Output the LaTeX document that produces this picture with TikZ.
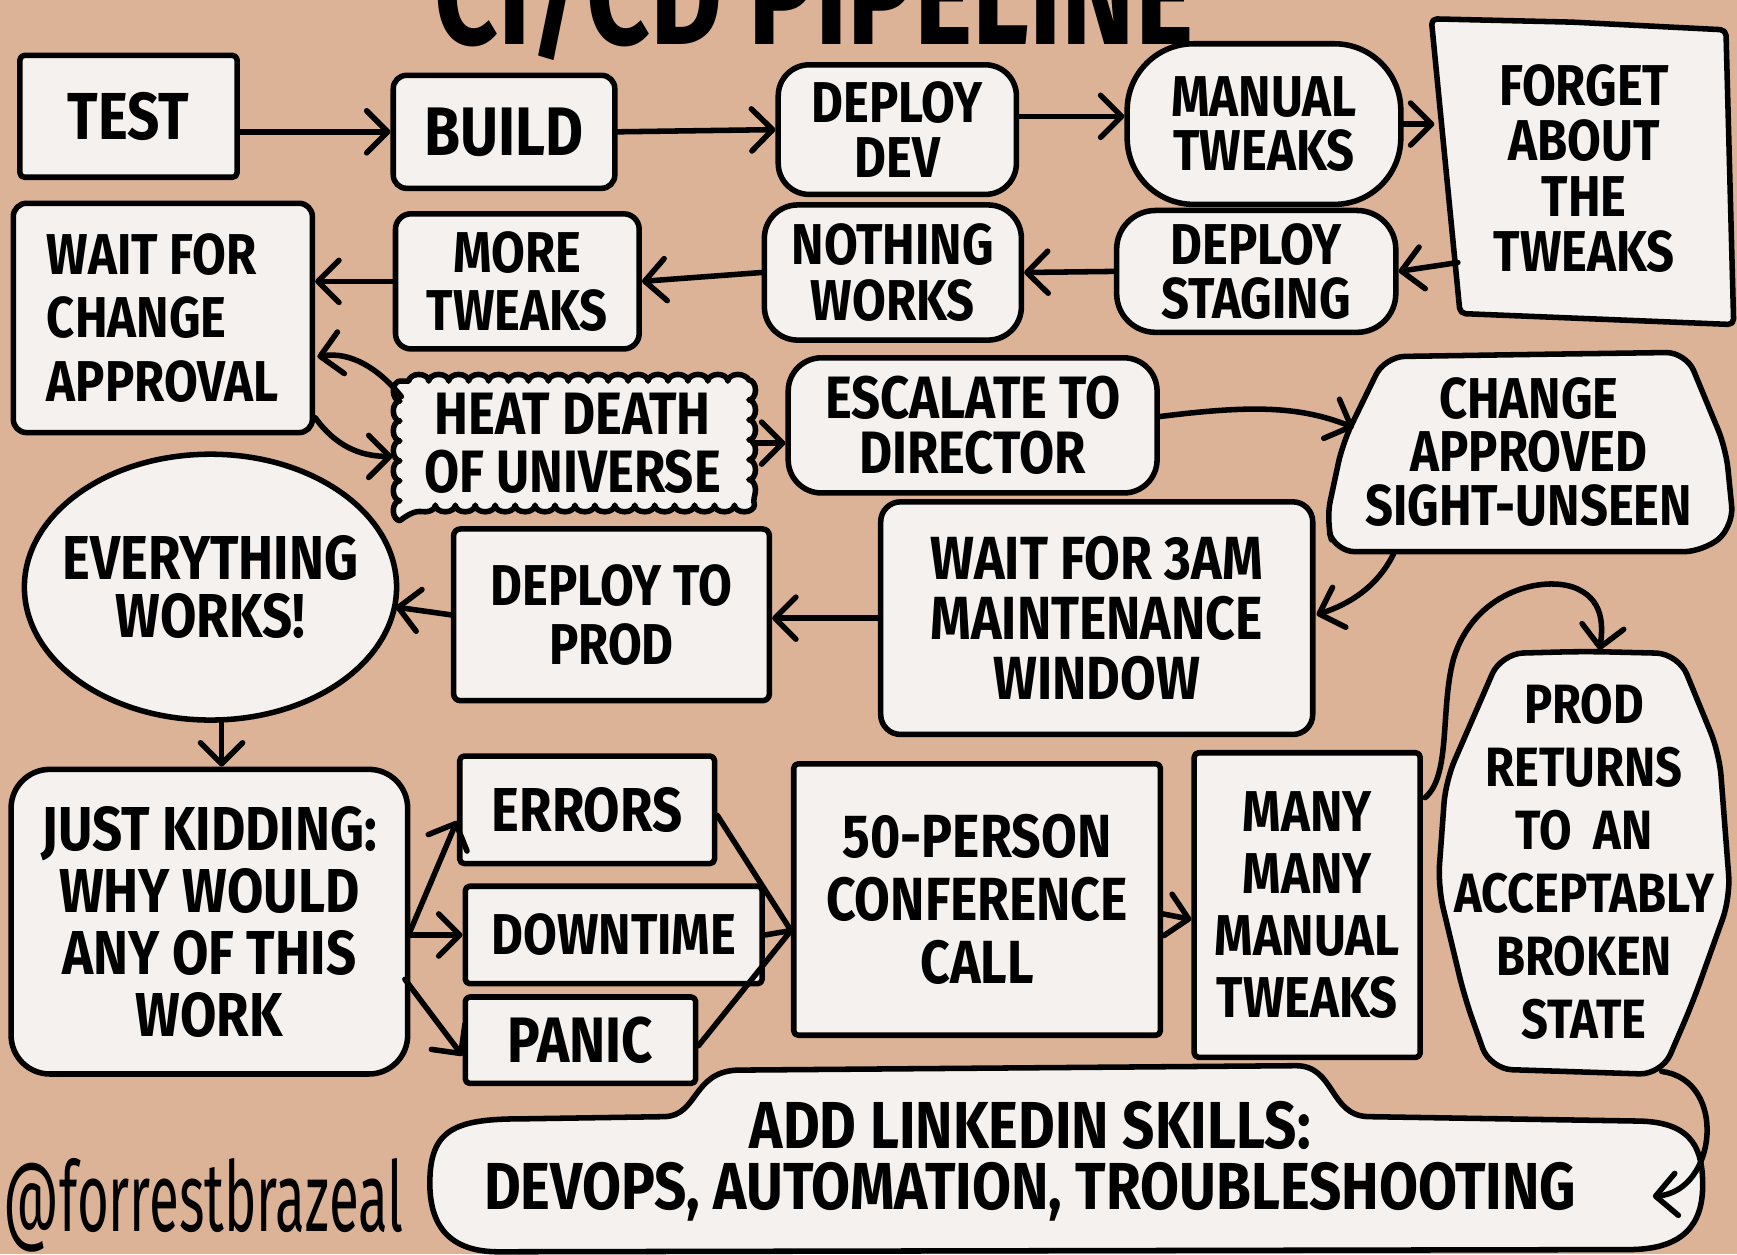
\documentclass[tikz,border=0pt]{standalone}
\usepackage{fontspec}
\usetikzlibrary{arrows.meta,calc,decorations.pathmorphing}
\newfontfamily\handf{Fira Sans}[FakeStretch=0.85]
\newfontfamily\titlef{Fira Sans}[FakeStretch=0.77]
\newfontfamily\sigf{Fira Sans}[FakeStretch=0.56]
\newcommand\hf[2]{\handf\bfseries\fontsize{#1}{#2}\selectfont}
\definecolor{bgc}{RGB}{221,179,151}
\definecolor{boxc}{RGB}{244,241,238}
\tikzset{
  bx/.style={draw=black, line width=5pt, fill=boxc, align=center, inner sep=0pt, line join=round},
  tx/.style={align=center, inner sep=0pt},
  shapebox/.style={draw=black, line width=5pt, fill=boxc, line join=round},
  arr/.style={draw=black, line width=5pt, line cap=round, -{Straight Barb[length=19pt,width=38pt,line width=5pt,round]}},
  cn/.style={draw=black, line width=5pt, line cap=round},
}
\begin{document}
\begin{tikzpicture}[x=1pt,y=-1pt]
\fill[bgc] (0,0) rectangle (1568,1132);
\useasboundingbox (0,0) rectangle (1568,1132);

% title and signature
\node[anchor=base, inner sep=0pt, font=\titlef\bfseries\fontsize{130}{130}\selectfont] (title) at (735,40) {CI/CD PIPELINE};
\node[anchor=base west, inner sep=0pt, font=\sigf\fontsize{88}{88}\selectfont] (sig) at (3,1112) {@forrestbrazeal};

% custom shapes
\draw[shapebox, rounded corners=5pt] (1420,20) -- (1558,27) -- (1565,293) -- (1318,283) -- (1292,17) -- cycle;
\draw[shapebox, decorate, decoration={bumps, mirror, segment length=36pt, amplitude=6pt}] (361,344) rectangle (676,456);
\draw[shapebox, rounded corners=18pt] (1380,320) -- (1522,318) -- (1558,405) -- (1565,475) -- (1538,498) -- (1205,498) -- (1197,470) -- (1212,400) -- (1250,322) -- cycle;
\draw[shapebox] (190,530) ellipse [x radius=168, y radius=120];
\draw[shapebox, rounded corners=20pt] (1430,588) -- (1515,590) -- (1552,680) -- (1562,810) -- (1528,905) -- (1500,970) -- (1345,965) -- (1322,900) -- (1298,800) -- (1305,705) -- (1355,590) -- cycle;
\draw[shapebox] (388,1068) .. controls (388,1020) and (410,1010) .. (470,1010) -- (600,1008) .. controls (630,1007) and (625,968) .. (665,966) -- (1170,962) .. controls (1205,962) and (1200,1007) .. (1235,1008) -- (1480,1012) .. controls (1530,1013) and (1537,1040) .. (1537,1070) .. controls (1537,1105) and (1520,1128) .. (1470,1128) -- (450,1130) .. controls (400,1130) and (388,1100) .. (388,1068) -- cycle;

% nodes
\node[bx, rounded corners=4pt, minimum width=196pt, minimum height=110pt, font=\hf{60}{60}] (test) at (116,105) {TEST};
\node[bx, rounded corners=12pt, minimum width=200pt, minimum height=102pt, font=\hf{62}{62}] (build) at (455,119) {BUILD};
\node[bx, rounded corners=28pt, minimum width=215pt, minimum height=117pt, font=\hf{52}{49}] (devdep) at (810,117) {DEPLOY\\DEV};
\node[bx, rounded corners=60pt, minimum width=247pt, minimum height=145pt, font=\hf{52}{49}] (manual) at (1141,112) {MANUAL\\TWEAKS};
\node[tx, minimum width=270pt, minimum height=275pt, font=\hf{52}{50}] (forget) at (1430,152) {FORGET\\ABOUT\\THE\\TWEAKS};
\node[bx, rounded corners=35pt, minimum width=252pt, minimum height=110pt, font=\hf{52}{49}] (staging) at (1134,245) {DEPLOY\\STAGING};
\node[bx, rounded corners=30pt, minimum width=232pt, minimum height=122pt, font=\hf{52}{50}] (nothing) at (806,246) {NOTHING\\WORKS};
\node[bx, rounded corners=14pt, minimum width=220pt, minimum height=122pt, font=\hf{52}{52}] (more) at (467,254) {MORE\\TWEAKS};
\node[bx, align=left, rounded corners=12pt, minimum width=270pt, minimum height=207pt, font=\hf{52}{57}] (wait) at (147,287) {WAIT FOR\\CHANGE\\APPROVAL};
\node[tx, minimum width=325pt, minimum height=124pt, font=\hf{54}{52}] (heat) at (517,400) {HEAT DEATH\\OF UNIVERSE};
\node[bx, rounded corners=30pt, minimum width=333pt, minimum height=122pt, font=\hf{54}{50}] (escalate) at (878,384) {ESCALATE TO\\DIRECTOR};
\node[tx, minimum width=368pt, minimum height=178pt, font=\hf{52}{48}] (approved) at (1380,408) {CHANGE\\APPROVED\\SIGHT-UNSEEN};
\node[bx, rounded corners=18pt, minimum width=390pt, minimum height=210pt, font=\hf{55}{54}] (wait3) at (990,558) {WAIT FOR 3AM\\MAINTENANCE\\WINDOW};
\node[bx, rounded corners=6pt, minimum width=285pt, minimum height=155pt, font=\hf{52}{53}] (deployprod) at (552,555) {DEPLOY TO\\PROD};
\node[tx, minimum width=336pt, minimum height=240pt, font=\hf{56}{53}] (everything) at (190,530) {EVERYTHING\\WORKS!};
\node[bx, rounded corners=35pt, minimum width=358pt, minimum height=275pt, font=\hf{56}{56}] (kidding) at (189,832) {JUST KIDDING:\\WHY WOULD\\ANY OF THIS\\WORK};
\node[bx, rounded corners=4pt, minimum width=230pt, minimum height=97pt, font=\hf{56}{56}] (errors) at (530,731) {ERRORS};
\node[bx, rounded corners=4pt, minimum width=268pt, minimum height=88pt, font=\hf{52}{52}] (downtime) at (554,844) {DOWNTIME};
\node[bx, rounded corners=4pt, minimum width=208pt, minimum height=78pt, font=\hf{58}{58}] (panic) at (524,939) {PANIC};
\node[bx, rounded corners=4pt, minimum width=331pt, minimum height=245pt, font=\hf{55}{57}] (conf) at (882,812) {50-PERSON\\CONFERENCE\\CALL};
\node[bx, rounded corners=4pt, minimum width=204pt, minimum height=275pt, font=\hf{52}{56}] (many) at (1180,817) {MANY\\MANY\\MANUAL\\TWEAKS};
\node[tx, minimum width=264pt, minimum height=382pt, font=\hf{50}{57}] (prodret) at (1430,778) {PROD\\RETURNS\\TO~~AN\\ACCEPTABLY\\BROKEN\\STATE};
\node[tx, font=\hf{60}{55}] (linkedin) at (930,1048) {ADD LINKEDIN SKILLS:\\DEVOPS, AUTOMATION, TROUBLESHOOTING};
\coordinate (lkend) at (1492,1080);
\coordinate (cin) at ($(conf.west)+(0,28)$);

% connectors
\draw[arr] (test.east |- build) -- (build.west);
\draw[arr] (build.east) -- (devdep.west);
\draw[arr] ($(devdep.east)+(0,-12)$) -- ($(manual.west)+(0,-7)$);
\draw[arr] (manual.east) -- (manual.east -| forget.west);
\draw[arr] ($(forget.center)+(-114,85)$) -- (staging.east);
\draw[arr] (staging.west) -- (nothing.east);
\draw[arr] (nothing.west) -- (more.east);
\draw[arr] (more.west) -- (more.west -| wait.east);
\draw[arr] ($(wait.east)+(0,90)$) .. controls +(18,25) and +(-30,0) .. ($(heat.west)+(0,12)$);
\draw[arr] ($(heat.west)+(8,-42)$) .. controls +(-20,-25) and +(30,-5) .. ($(wait.east)+(2,35)$);
\draw[arr] (heat.east) -- (heat.east -| escalate.west);
\draw[arr] ($(escalate.east)+(0,-8)$) .. controls +(80,-10) and +(-50,-20) .. ($(approved.center)+(-158,-22)$);
\draw[arr] ($(approved.center)+(-122,92)$) .. controls +(-15,30) and +(30,-10) .. ($(wait3.east)+(1,-3)$);
\draw[arr] (wait3.west) -- (wait3.west -| deployprod.east);
\draw[arr] (deployprod.west) -- ($(everything.center)+(167,18)$);
\draw[arr] ($(everything.center)+(10,120)$) -- ($(kidding.north)+(11,0)$);
\draw[arr] ($(kidding.east)+(0,8)$) -- ($(errors.west)+(0,10)$);
\draw[arr] (kidding.east |- downtime.west) -- (downtime.west);
\draw[arr] ($(kidding.east)+(-5,52)$) -- ($(panic.west)+(0,14)$);
\draw[cn] ($(errors.east)+(0,5)$) -- (cin);
\draw[cn] (downtime.east) -- (cin);
\draw[cn] ($(panic.east)+(0,5)$) -- (cin);
\draw[arr] ($(conf.east)+(0,13)$) -- ($(many.west)+(0,13)$);
\draw[arr] ($(many.east)+(2,-97)$) .. controls (1310,700) and (1300,640) .. (1312,595) .. controls (1330,535) and (1390,520) .. (1420,530) .. controls (1448,540) and (1447,565) .. ($(prodret.north)+(14,0)$);
\draw[arr] ($(prodret.south)+(70,-2)$) .. controls (1560,975) and (1550,1075) .. (lkend);
\end{tikzpicture}
\end{document}
